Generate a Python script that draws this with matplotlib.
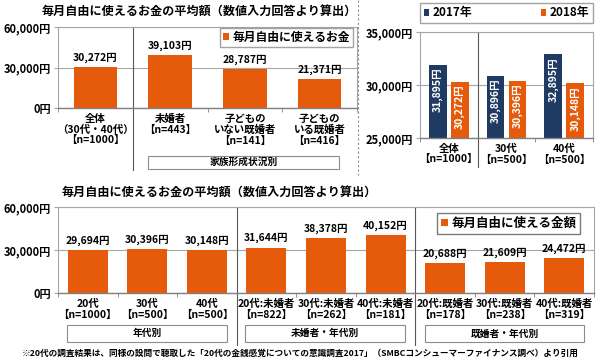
import matplotlib
matplotlib.use('Agg')
import matplotlib.pyplot as plt
import matplotlib.transforms as mtransforms
from matplotlib.patches import Rectangle
from matplotlib.lines import Line2D

plt.rcParams['font.family'] = ['Noto Sans CJK JP', 'DejaVu Sans']
plt.rcParams['font.weight'] = 'bold'

# データ
cat_kazoku = ['全体\n（30代・40代）\n【n=1000】', '未婚者\n【n=443】',
              '子どもの\nいない既婚者\n【n=141】', '子どもの\nいる既婚者\n【n=416】']
val_kazoku = [30272, 39103, 28787, 21371]

cat_nen = ['全体\n【n=1000】', '30代\n【n=500】', '40代\n【n=500】']
val_2017 = [31895, 30896, 32895]
val_2018 = [30272, 30396, 30148]

cat_age = ['20代\n【n=1000】', '30代\n【n=500】', '40代\n【n=500】',
           '20代:未婚者\n【n=822】', '30代:未婚者\n【n=262】', '40代:未婚者\n【n=181】',
           '20代:既婚者\n【n=178】', '30代:既婚者\n【n=238】', '40代:既婚者\n【n=319】']
val_age = [29694, 30396, 30148, 31644, 38378, 40152, 20688, 21609, 24472]

title = '毎月自由に使えるお金の平均額（数値入力回答より算出）'
note = '※20代の調査結果は、同様の設問で聴取した「20代の金銭感覚についての意識調査2017」（SMBCコンシューマーファイナンス調べ）より引用'

ORANGE = '#E65A0C'
NAVY = '#1F3A63'
GRID = '#A6A6A6'
W, H = 600, 362

fig = plt.figure(figsize=(6, 3.62), dpi=100)


def px_axes(x0, y0, x1, y1):
    return fig.add_axes([x0 / W, 1 - y1 / H, (x1 - x0) / W, (y1 - y0) / H])


def style(ax, n):
    for s in ['top', 'right', 'left']:
        ax.spines[s].set_color(GRID)
        ax.spines[s].set_linewidth(0.8)
    ax.spines['bottom'].set_color('#808080')
    ax.spines['bottom'].set_linewidth(1.0)
    ax.set_xlim(-0.5, n - 0.5)
    ax.set_xticks(range(n))
    ax.set_xticks([i - 0.5 for i in range(n + 1)], minor=True)
    ax.tick_params(axis='x', which='major', length=0, labelsize=7.5, pad=4)
    ax.tick_params(axis='x', which='minor', length=3, color='#808080')
    ax.tick_params(axis='y', length=3, color=GRID, labelsize=8, pad=2)
    ax.yaxis.grid(True, color=GRID, linewidth=0.8)
    ax.set_axisbelow(True)


def set_xlabels(ax, labels):
    ax.set_xticklabels(labels, linespacing=1.1)


def yen(v):
    return f'{v:,}円'


def group_box(ax, x0, x1, y0, y1, text):
    tr = mtransforms.blended_transform_factory(ax.transData, ax.transAxes)
    ax.add_patch(Rectangle((x0, y0), x1 - x0, y1 - y0, transform=tr, clip_on=False,
                           facecolor='white', edgecolor='#8C8C8C', linewidth=0.8))
    ax.text((x0 + x1) / 2, (y0 + y1) / 2, text, transform=tr, ha='center', va='center',
            fontsize=7, fontweight='bold')


def sep(ax, x, y_low):
    tr = mtransforms.blended_transform_factory(ax.transData, ax.transAxes)
    ax.plot([x, x], [1, y_low], transform=tr, clip_on=False, color='#595959', linewidth=0.8)


# 上左: 家族形成状況別
ax1 = px_axes(58, 27, 357, 108)
b1 = ax1.bar(range(len(val_kazoku)), val_kazoku, width=0.58, color=ORANGE, zorder=2)
ax1.set_ylim(0, 60000)
ax1.set_yticks([0, 30000, 60000])
ax1.set_yticklabels([yen(v) for v in [0, 30000, 60000]])
style(ax1, len(val_kazoku))
set_xlabels(ax1, cat_kazoku)
ax1.bar_label(b1, labels=[yen(v) for v in val_kazoku], padding=3, fontsize=7.5, fontweight='bold')
sep(ax1, 0.5, -0.77)
group_box(ax1, 0.7, 3.26, -0.75, -0.59, '家族形成状況別')
ax1.legend([b1], ['毎月自由に使えるお金'], loc='upper right', bbox_to_anchor=(0.987, 0.99),
           borderaxespad=0, fancybox=False, edgecolor='#8C8C8C', handlelength=0.55,
           handleheight=0.55, handletextpad=0.3, borderpad=0.25,
           prop={'weight': 'bold', 'size': 8.5})
fig.text(42 / W, 1 - 12 / H, title, fontsize=8.7, fontweight='bold', va='center', ha='left')

# 上右: 2017年 vs 2018年
ax2 = px_axes(420, 32, 593, 138)
x = range(len(cat_nen))
b17 = ax2.bar([i - 0.19 for i in x], val_2017, width=0.31, color=NAVY, zorder=2)
b18 = ax2.bar([i + 0.19 for i in x], val_2018, width=0.31, color=ORANGE, zorder=2)
ax2.set_ylim(25000, 35000)
ax2.set_yticks([25000, 30000, 35000])
ax2.set_yticklabels([yen(v) for v in [25000, 30000, 35000]])
style(ax2, len(cat_nen))
set_xlabels(ax2, cat_nen)
for bars, vals in [(b17, val_2017), (b18, val_2018)]:
    for t in ax2.bar_label(bars, labels=[yen(v) for v in vals], padding=-2, rotation=90,
                           color='white', fontsize=7.5, fontweight='bold'):
        t.set_va('top')
sep(ax2, 0.5, -0.27)
ax2.legend([b17, b18], ['2017年', '2018年'], loc='lower left', bbox_to_anchor=(0, 1.085, 1, 0.2),
           mode='expand', ncol=2, borderaxespad=0, fancybox=False, edgecolor='#8C8C8C',
           handlelength=0.5, handleheight=0.5, handletextpad=0.3, borderpad=0.3,
           prop={'weight': 'bold', 'size': 8.5})

fig.add_artist(Line2D([358 / W, 358 / W], [1, 1 - 175 / H], color='#8C8C8C',
                      linewidth=0.8, linestyle=(0, (2, 2))))

# 下: 年代別
ax3 = px_axes(58, 207, 594, 293)
b3 = ax3.bar(range(len(val_age)), val_age, width=0.67, color=ORANGE, zorder=2)
ax3.set_ylim(0, 60000)
ax3.set_yticks([0, 30000, 60000])
ax3.set_yticklabels([yen(v) for v in [0, 30000, 60000]])
style(ax3, len(val_age))
set_xlabels(ax3, cat_age)
ax3.bar_label(b3, labels=[yen(v) for v in val_age], padding=3, fontsize=7.5, fontweight='bold')
sep(ax3, 2.5, -0.6)
sep(ax3, 5.5, -0.6)
group_box(ax3, -0.35, 2.34, -0.57, -0.37, '年代別')
group_box(ax3, 2.64, 5.32, -0.57, -0.37, '未婚者・年代別')
group_box(ax3, 5.66, 8.34, -0.57, -0.37, '既婚者・年代別')
ax3.legend([b3], ['毎月自由に使える金額'], loc='upper right', bbox_to_anchor=(0.974, 0.93),
           borderaxespad=0, fancybox=False, edgecolor='#595959', handlelength=0.55,
           handleheight=0.55, handletextpad=0.3, borderpad=0.3,
           prop={'weight': 'bold', 'size': 9})
fig.text(62 / W, 1 - 193 / H, title, fontsize=8.7, fontweight='bold', va='center', ha='left')

fig.text(22 / W, 1 - 353 / H, note, fontsize=6.25, fontweight='bold', va='center', ha='left')

fig.savefig('out.png', dpi=100)
